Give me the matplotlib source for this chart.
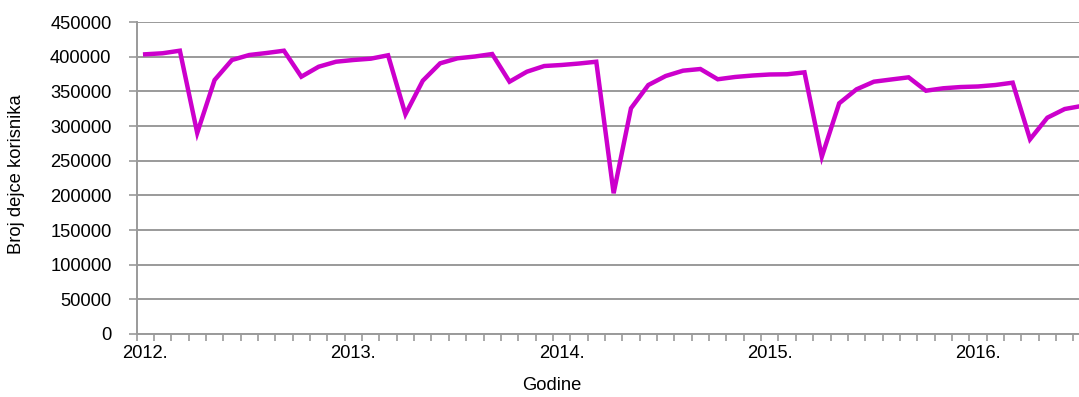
import matplotlib
matplotlib.use("Agg")
import matplotlib.pyplot as plt
from matplotlib.ticker import FixedLocator

plt.rcParams['font.family'] = ['Liberation Sans', 'DejaVu Sans']

years = [2012, 2013, 2014, 2015, 2016]
months = [f"{y}-{m:02d}" for y in years for m in range(1, 13)][:55]

users = [
    403400, 404900, 408600, 290000, 366300, 395200, 402400, 405300, 408600, 371100, 385500, 392700,
    395200, 397100, 402000, 316900, 365300, 390400, 397600, 400200, 403800, 363900, 378300, 386500,
    388000, 390100, 392700, 203000, 325500, 359100, 372100, 379800, 382200, 367400, 370700, 372800,
    374300, 374600, 377400, 255700, 332700, 352900, 363900, 367100, 370200, 350900, 354400, 356200,
    357000, 359100, 362500, 280800, 312000, 324500, 329000,
]

year_labels = ["2012.", "2013.", "2014.", "2015.", "2016."]
y_ticks = list(range(0, 450001, 50000))

FS = 13.2
fig = plt.figure(figsize=(10.79, 3.97), dpi=100)
x0 = 136.5
step = 17.35
ax = fig.add_axes([x0/1079, 1 - 334/397, 1 - x0/1079, (334 - 22)/397])

x = list(range(len(users)))
ax.plot(x, users, color='#CC00CC', lw=3.2, solid_joinstyle='miter')

ax.set_xlim(-0.5, (1079 - x0)/step - 0.5)
ax.set_ylim(0, 450000)

grid_c = '#9a9a9a'
ax.set_yticks(y_ticks)
ax.set_yticklabels([str(v) for v in y_ticks])
ax.yaxis.grid(True, color=grid_c, lw=1.4)
ax.set_axisbelow(True)

ax.set_xticks([i*12 for i in range(len(year_labels))])
ax.set_xticklabels(year_labels)
ax.xaxis.set_minor_locator(FixedLocator([k - 0.5 for k in range(0, 60)]))
ax.tick_params(axis='x', which='major', length=0, pad=8, labelsize=FS, colors='black')
ax.tick_params(axis='x', which='minor', length=5, width=1.2, color=grid_c, direction='out')
ax.tick_params(axis='y', which='major', length=6, width=1.2, color=grid_c, pad=12, labelsize=FS, labelcolor='black')

for s in ['top', 'right']:
    ax.spines[s].set_visible(False)
for s in ['left', 'bottom']:
    ax.spines[s].set_color(grid_c)
    ax.spines[s].set_linewidth(1.4)

fig.text(17/1079, 1 - 174/397, "Broj dejce korisnika", rotation=90, ha='center', va='center', fontsize=FS)
fig.text(552/1079, 1 - 385/397, "Godine", ha='center', va='center', fontsize=FS)

fig.savefig("out.png", dpi=100)
